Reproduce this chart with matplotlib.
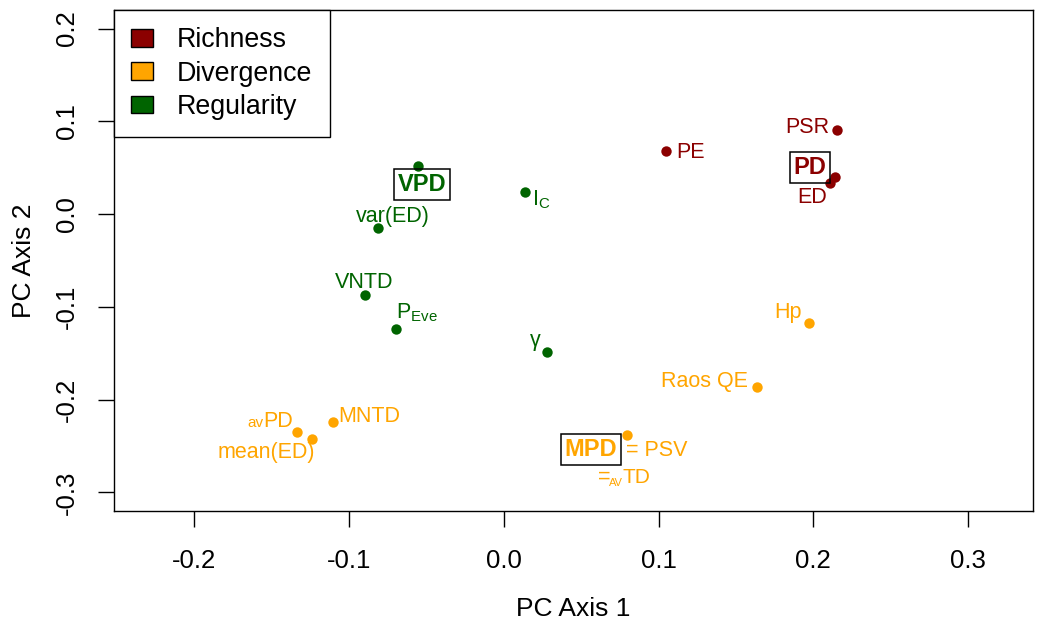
import matplotlib
matplotlib.use("Agg")
import matplotlib.pyplot as plt
from matplotlib.patches import Patch
import numpy as np

plt.rcParams["font.family"] = ["Liberation Sans", "DejaVu Sans"]
plt.rcParams["axes.unicode_minus"] = False

# PCA loadings of the diversity metrics
names = ["PSR", "PD", "ED", "PE",
         "VPD", "var(ED)", "IC", "VNTD", "PEve", "gamma",
         "Hp", "RaosQE", "MNTD", "avPD", "mean(ED)", "MPD"]
pc1 = [0.215, 0.214, 0.211, 0.105,
       -0.0556, -0.0814, 0.0136, -0.0899, -0.0698, 0.0278,
       0.197, 0.1635, -0.1105, -0.1338, -0.124, 0.0795]
pc2 = [0.0905, 0.040, 0.034, 0.068,
       0.052, -0.015, 0.0237, -0.0873, -0.124, -0.1487,
       -0.1175, -0.1864, -0.224, -0.235, -0.2425, -0.238]
group = ["Richness"] * 4 + ["Regularity"] * 6 + ["Divergence"] * 6

groups = ["Richness", "Divergence", "Regularity"]
colors = {"Richness": "#8B0000", "Divergence": "#FFA500", "Regularity": "#006400"}

# label text and placement (offset in pixels from the point, alignment, size, bold box)
labels = {
    "PSR": ("PSR", -7, -3, "right", 15.5, False),
    "PD": ("PD", -25, 3, "center", 17, True),
    "ED": ("ED", -18, -20, "center", 15.5, False),
    "PE": ("PE", 10, -7, "left", 15.5, False),
    "VPD": ("VPD", 4, -25, "center", 17, True),
    "var(ED)": ("var(ED)", 15, 6, "center", 15.5, False),
    "IC": (r"I$_\mathregular{C}$", 7, -13, "left", 15.5, False),
    "VNTD": ("VNTD", -1, 7, "center", 15.5, False),
    "PEve": (r"P$_\mathregular{Eve}$", 0, 11, "left", 15.5, False),
    "gamma": ("γ", -12, 6, "center", 15.5, False),
    "Hp": ("Hp", -7, 5, "right", 15.5, False),
    "RaosQE": ("Raos QE", -9, 0, "right", 15.5, False),
    "MNTD": ("MNTD", 5, 0, "left", 15.5, False),
    "avPD": ("PD", -4, 5, "right", 15.5, False),
    "mean(ED)": ("mean(ED)", 3, -19, "right", 15.5, False),
    "MPD": ("MPD", -36, -21, "center", 17, True),
}

fig = plt.figure(figsize=(10.48, 6.25), dpi=100)
ax = fig.add_axes([114 / 1048, 1 - 511 / 625, (1033 - 114) / 1048, (511 - 10) / 625])

for g in groups:
    xs = [x for x, gg in zip(pc1, group) if gg == g]
    ys = [y for y, gg in zip(pc2, group) if gg == g]
    ax.scatter(xs, ys, s=56, color=colors[g], zorder=3, linewidths=0)

for n, x, y, g in zip(names, pc1, pc2, group):
    txt, dx, dy, ha, size, boxed = labels[n]
    kw = {}
    if boxed:
        kw["bbox"] = dict(boxstyle="square,pad=0.17", fc="none", ec="black", lw=1.1)
    ax.annotate(txt, (x, y), xytext=(dx, dy), textcoords="offset pixels",
                ha=ha, va="baseline", color=colors[g], fontsize=size,
                fontweight="bold" if boxed else "normal", **kw)
    # extra pieces of the combined labels
    if n == "avPD":
        ax.annotate("av", (x, y), xytext=(-33, 5), textcoords="offset pixels",
                    ha="right", va="baseline", color=colors[g], fontsize=11)
    if n == "MPD":
        ax.annotate("= PSV", (x, y), xytext=(-1, -21), textcoords="offset pixels",
                    ha="left", va="baseline", color=colors[g], fontsize=15.5)
        ax.annotate("=", (x, y), xytext=(-29, -48), textcoords="offset pixels",
                    ha="left", va="baseline", color=colors[g], fontsize=15.5)
        ax.annotate("AV", (x, y), xytext=(-18, -51), textcoords="offset pixels",
                    ha="left", va="baseline", color=colors[g], fontsize=8)
        ax.annotate("TD", (x, y), xytext=(-4, -48), textcoords="offset pixels",
                    ha="left", va="baseline", color=colors[g], fontsize=15)

ax.set_xlim(-0.252, 0.342)
ax.set_ylim(-0.32, 0.22)
xt = np.round(np.arange(-0.2, 0.31, 0.1), 1)
yt = np.round(np.arange(-0.3, 0.21, 0.1), 1)
ax.set_xticks(xt)
ax.set_xticklabels(["%.1f" % v for v in xt])
ax.set_yticks(yt)
ax.set_yticklabels(["%.1f" % v for v in yt], rotation=90, va="center")
ax.tick_params(direction="out", length=11.5, width=1, labelsize=18.5, pad=16)
ax.tick_params(axis="y", pad=13.5)
for sp in ax.spines.values():
    sp.set_linewidth(1)
ax.set_xlabel("PC Axis 1", fontsize=19, labelpad=17)
ax.set_ylabel("PC Axis 2", fontsize=19, labelpad=14)

handles = [Patch(facecolor=colors[g], edgecolor="black", label=g) for g in groups]
leg = ax.legend(handles=handles, loc="upper left", fontsize=19.3, frameon=True,
                fancybox=False, framealpha=1, edgecolor="black", borderaxespad=0,
                handlelength=0.81, handleheight=0.63, handletextpad=0.89,
                borderpad=0.65, labelspacing=0.27)
leg.get_frame().set_linewidth(1)

fig.savefig("out.png", dpi=100)
